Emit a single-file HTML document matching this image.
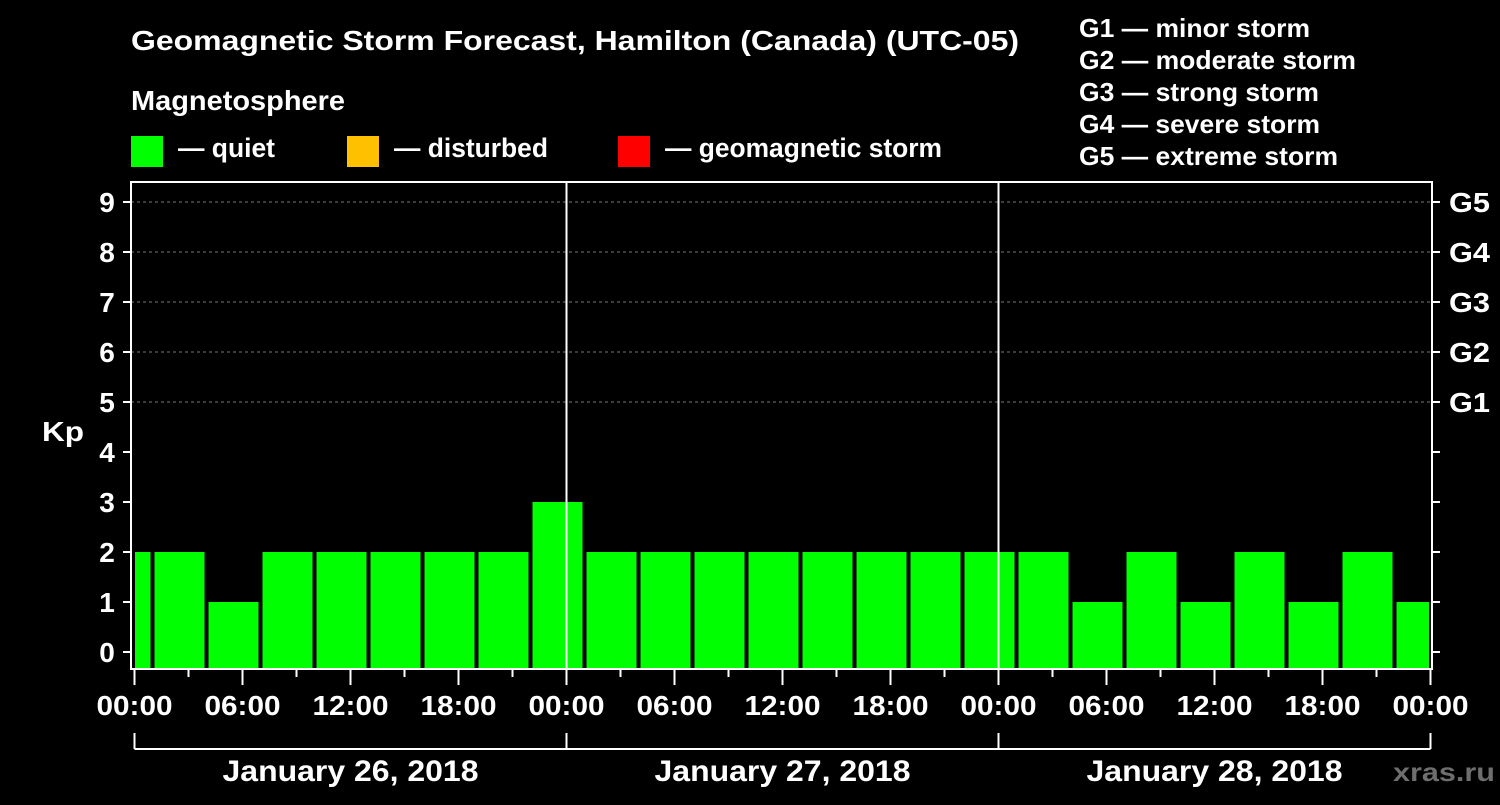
<!DOCTYPE html>
<html><head><meta charset="utf-8"><style>
body{margin:0;background:#000;width:1500px;height:800px;overflow:hidden}
svg text{font-family:"Liberation Sans",Arial,sans-serif;font-weight:bold;fill:#fff}
</style></head><body>
<svg id="chart" width="1500" height="800" xmlns="http://www.w3.org/2000/svg">
<rect width="1500" height="800" fill="#000"/>
<text x="131" y="50" font-size="28" textLength="888" lengthAdjust="spacingAndGlyphs">Geomagnetic Storm Forecast, Hamilton (Canada) (UTC-05)</text>
<text x="131" y="110" font-size="28" textLength="214" lengthAdjust="spacingAndGlyphs">Magnetosphere</text>
<g><rect x="131" y="136" width="32" height="31" fill="#00ff00"/><text x="178" y="157" font-size="27" textLength="97" lengthAdjust="spacingAndGlyphs">— quiet</text></g>
<g><rect x="347" y="136" width="32" height="31" fill="#ffc000"/><text x="394" y="157" font-size="27" textLength="154" lengthAdjust="spacingAndGlyphs">— disturbed</text></g>
<g><rect x="618" y="136" width="32" height="31" fill="#ff0000"/><text x="665" y="157" font-size="27" textLength="277" lengthAdjust="spacingAndGlyphs">— geomagnetic storm</text></g>
<g font-size="26">
<text x="1079" y="37" textLength="231" lengthAdjust="spacingAndGlyphs">G1 — minor storm</text>
<text x="1079" y="69" textLength="277" lengthAdjust="spacingAndGlyphs">G2 — moderate storm</text>
<text x="1079" y="101" textLength="240" lengthAdjust="spacingAndGlyphs">G3 — strong storm</text>
<text x="1079" y="133" textLength="241" lengthAdjust="spacingAndGlyphs">G4 — severe storm</text>
<text x="1079" y="165" textLength="259" lengthAdjust="spacingAndGlyphs">G5 — extreme storm</text>
</g>
<text x="42" y="441" font-size="28" textLength="42" lengthAdjust="spacingAndGlyphs">Kp</text>
<text x="1393" y="781" font-size="26" textLength="102" lengthAdjust="spacingAndGlyphs" style="fill:#6e6e6e">xras.ru</text>
<g id="grid"></g><g id="bars"></g><g id="axes"></g>
</svg>
<script>
const startHours=[-2,1,4,7,10,13,16,19,22,25,28,31,34,37,40,43,46,49,52,55,58,61,64,67,70];
const kpValues=[2,2,1,2,2,2,2,2,3,2,2,2,2,2,2,2,2,2,1,2,1,2,1,2,1];
const kpTicks=[0,1,2,3,4,5,6,7,8,9];
const gLabels=["G1","G2","G3","G4","G5"];
const hourTicks=["00:00","06:00","12:00","18:00"];
const dayLabels=["January 26, 2018","January 27, 2018","January 28, 2018"];
const NS="http://www.w3.org/2000/svg";
const X0=134.5,PX_H=18,L=131,R=1432,T=182,B=669;
const x=h=>X0+h*PX_H, y=k=>652-k*50;
function mk(tag,attrs,parent,txt){const e=document.createElementNS(NS,tag);for(const k in attrs)e.setAttribute(k,attrs[k]);if(txt!=null)e.textContent=txt;parent.appendChild(e);return e;}
const grid=document.getElementById('grid'),bars=document.getElementById('bars'),axes=document.getElementById('axes');
kpTicks.forEach(k=>{
 if(k>=5){const g=mk('line',{x1:L,x2:R,y1:y(k),y2:y(k),stroke:'#777','stroke-dasharray':'3,3','stroke-width':1},grid);
 
 }
 const t=mk('text',{x:107,y:y(k)+10,'font-size':28,'text-anchor':'middle'},axes,String(k));
 
 
 mk('line',{x1:L-8,x2:L,y1:y(k),y2:y(k),stroke:'#fff','stroke-width':2},axes);
 mk('line',{x1:R,x2:R+8,y1:y(k),y2:y(k),stroke:'#fff','stroke-width':2},axes);
});
gLabels.forEach((g,i)=>{const t=mk('text',{x:1449,y:y(5+i)+10,'font-size':28,textLength:41,lengthAdjust:'spacingAndGlyphs'},axes,g);
 
 });
startHours.forEach((h,i)=>{
 let a=Math.max(x(h)+2,L+4),b=Math.min(x(h+3)-2,R-3);
 const v=kpValues[i],c=v>=5?'#ff0000':(v>=4?'#ffc000':'#00ff00');
 const r=mk('rect',{x:a,y:y(v),width:b-a,height:B-1-y(v),fill:c},bars);
 
 
});
mk('rect',{x:L,y:T,width:R-L,height:B-T,fill:'none',stroke:'#fff','stroke-width':2},axes);
[1,2].forEach(d=>mk('line',{x1:x(24*d),x2:x(24*d),y1:T,y2:B,stroke:'#fff','stroke-width':2},axes));
for(let h=0;h<=72;h+=3){const long=h%6==0;mk('line',{x1:x(h),x2:x(h),y1:B,y2:B+(long?16:8),stroke:'#fff','stroke-width':2},axes);
 if(long){const lab=hourTicks[(h/6)%4];const t=mk('text',{x:x(h)-38,y:B+46,'font-size':28,textLength:76,lengthAdjust:'spacingAndGlyphs'},axes,lab);
 
 }}
mk('line',{x1:x(0),x2:x(72),y1:749,y2:749,stroke:'#fff','stroke-width':2},axes);
for(let d=0;d<=3;d++)mk('line',{x1:x(24*d),x2:x(24*d),y1:733,y2:749,stroke:'#fff','stroke-width':2},axes);
dayLabels.forEach((s,i)=>{const t=mk('text',{x:x(24*i+12)-128,y:781,'font-size':30,textLength:256,lengthAdjust:'spacingAndGlyphs'},axes,s);
 
 });
</script>
</body></html>
